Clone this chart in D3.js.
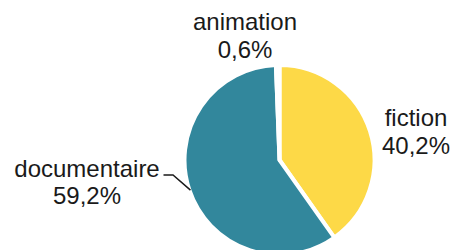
<!DOCTYPE html>
<html>
<head>
<meta charset="utf-8">
<script src="https://cdn.jsdelivr.net/npm/d3@7"></script>
<style>
  html, body { margin: 0; padding: 0; background: #fff; }
  svg { display: block; }
  text { font-family: "Liberation Sans", Arial, sans-serif; fill: #1a1a1a; }
</style>
</head>
<body>
<div id="chart"></div>
<script>
// chart data
const categories = ["fiction", "documentaire", "animation"];
const values = [40.2, 59.2, 0.6];
const colors = ["#fdd947", "#32879c", "#ffffff"];

const width = 457, height = 250;
const cx = 279.5, cy = 160;
const radius = 95;

const svg = d3.select("#chart")
  .append("svg")
  .attr("width", width)
  .attr("height", height);

const g = svg.append("g")
  .attr("transform", `translate(${cx}, ${cy})`);

const data = categories.map((c, i) => ({ name: c, value: values[i], color: colors[i] }));

const pie = d3.pie()
  .sort(null)
  .value(d => d.value);

const arc = d3.arc()
  .innerRadius(0)
  .outerRadius(radius);

const arcs = pie(data);

g.selectAll("path.slice")
  .data(arcs)
  .enter()
  .append("path")
  .attr("class", "slice")
  .attr("d", arc)
  .attr("fill", d => d.data.color)
  .attr("stroke", "#fff")
  .attr("stroke-width", 4)
  .attr("stroke-linejoin", "round");

const fmt = v => d3.format(".1f")(v).replace(".", ",") + "%";

// where each label sits relative to the pie centre
const labelLayout = {
  fiction:      { x: 136.5, y: -34, anchor: "middle", leader: false },
  documentaire: { x: -120,  y: 16.5, anchor: "end",   leader: true, elbow: -106.5 },
  animation:    { x: -34.5, y: -130, anchor: "middle", leader: false }
};

const lineH = 27.5;

arcs.forEach(a => {
  const lay = labelLayout[a.data.name];
  const t = g.append("text")
    .attr("text-anchor", lay.anchor)
    .attr("font-size", 24)
    .attr("x", lay.x)
    .attr("y", lay.y);
  if (lay.anchor === "end") {
    // two centred lines under a right-aligned first line
    t.attr("text-anchor", "middle").attr("x", lay.x - 72.5);
  }
  t.append("tspan").attr("x", t.attr("x")).attr("dy", 0).text(a.data.name);
  t.append("tspan").attr("x", t.attr("x")).attr("dy", lineH).text(fmt(a.data.value));

  if (lay.leader) {
    const mid = (a.startAngle + a.endAngle) / 2;
    const r0 = radius - 1;
    const p0 = [Math.sin(mid) * r0, -Math.cos(mid) * r0];
    const ey = lay.y - 1.5;
    const p1 = [lay.elbow, ey];
    const p2 = [lay.x + 4, ey];
    g.append("path")
      .attr("d", d3.line()([p0, p1, p2]))
      .attr("fill", "none")
      .attr("stroke", "#1a1a1a")
      .attr("stroke-width", 1.5);
  }
});
</script>
</body>
</html>
